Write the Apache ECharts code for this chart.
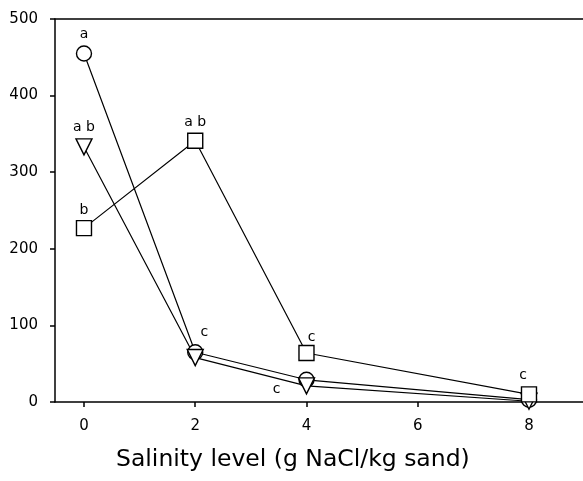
<!DOCTYPE html>
<html>
<head>
<meta charset="utf-8">
<script src="https://cdn.jsdelivr.net/npm/echarts@6/dist/echarts.min.js"></script>
<style>
  html, body { margin: 0; padding: 0; background: #fff; }
  #chart { width: 583px; height: 481px; }
</style>
</head>
<body>
<div id="chart"></div>
<script>
// salinity levels (g NaCl/kg sand)
const salinity = [0, 2, 4, 8]
const xTicks = [0, 2, 4, 6, 8]
const yTicks = [0, 100, 200, 300, 400, 500]

// values
const circleValues = [455, 65, 29, 3]
const triangleValues = [333, 58, 21, 1]
const squareValues = [227, 341, 64, 10]

// significance letters per point
const circleLetters = ['a', 'c', 'c', '']
const triangleLetters = ['a b', '', '', '']
const squareLetters = ['b', 'a b', 'c', 'c']

const font = 'DejaVu Sans'

// where each letter sits relative to its marker
const letterOffset = {
  circle: [[0, -19], [9, -20], [-30, 10], [0, 0]],
  triangle: [[0, -20], [0, 0], [0, 0], [0, 0]],
  square: [[0, -18], [0, -18], [5, -16], [-6, -19]]
}

const buildData = (values, letters, key) => {
  return values.map((v, i) => {
    return {
      value: [salinity[i], v],
      label: {
        show: letters[i] !== '',
        position: 'inside',
        offset: letterOffset[key][i],
        formatter: letters[i],
        color: '#000',
        fontFamily: font,
        fontSize: 14
      }
    }
  })
}

const makeSeries = (name, symbol, rotate, size, values, letters, key) => {
  return {
    name: name,
    type: 'line',
    symbol: symbol,
    symbolSize: size,
    symbolRotate: rotate,
    showAllSymbol: true,
    animation: false,
    lineStyle: { color: '#000', width: 1.2 },
    itemStyle: { color: '#fff', borderColor: '#000', borderWidth: 1.4 },
    emphasis: { disabled: true },
    data: buildData(values, letters, key)
  }
}

const chart = echarts.init(document.getElementById('chart'))
const axisLine = { show: true, onZero: false, lineStyle: { color: '#000', width: 1.5 } }

chart.setOption({
  backgroundColor: '#fff',
  animation: false,
  grid: { left: 55, right: 0, top: 19, bottom: 79, containLabel: false },
  xAxis: [
    {
      type: 'value',
      min: -0.521,
      max: 8.971,
      axisLine: axisLine,
      axisTick: { show: true, length: 5, customValues: xTicks, lineStyle: { color: '#000', width: 1.5 } },
      axisLabel: { customValues: xTicks, margin: 17, color: '#000', fontFamily: font, fontSize: 15 },
      splitLine: { show: false }
    },
    {
      type: 'value',
      position: 'top',
      min: -0.521,
      max: 8.971,
      axisLine: axisLine,
      axisTick: { show: false },
      axisLabel: { show: false },
      splitLine: { show: false }
    }
  ],
  yAxis: {
    type: 'value',
    min: 0,
    max: 500,
    interval: 100,
    axisLine: axisLine,
    axisTick: { show: true, length: 5, lineStyle: { color: '#000', width: 1.5 } },
    axisLabel: { margin: 17, color: '#000', fontFamily: font, fontSize: 15, formatter: v => (yTicks.includes(v) ? String(v) : '') },
    splitLine: { show: false }
  },
  graphic: [
    {
      type: 'text',
      left: 116,
      top: 448,
      style: {
        text: 'Salinity level (g NaCl/kg sand)',
        fill: '#000',
        font: '23.5px "DejaVu Sans"'
      }
    }
  ],
  series: [
    makeSeries('circle', 'circle', 0, 15, circleValues, circleLetters, 'circle'),
    makeSeries('triangle', 'triangle', 180, 16, triangleValues, triangleLetters, 'triangle'),
    makeSeries('square', 'rect', 0, 15, squareValues, squareLetters, 'square')
  ]
})
</script>
</body>
</html>
